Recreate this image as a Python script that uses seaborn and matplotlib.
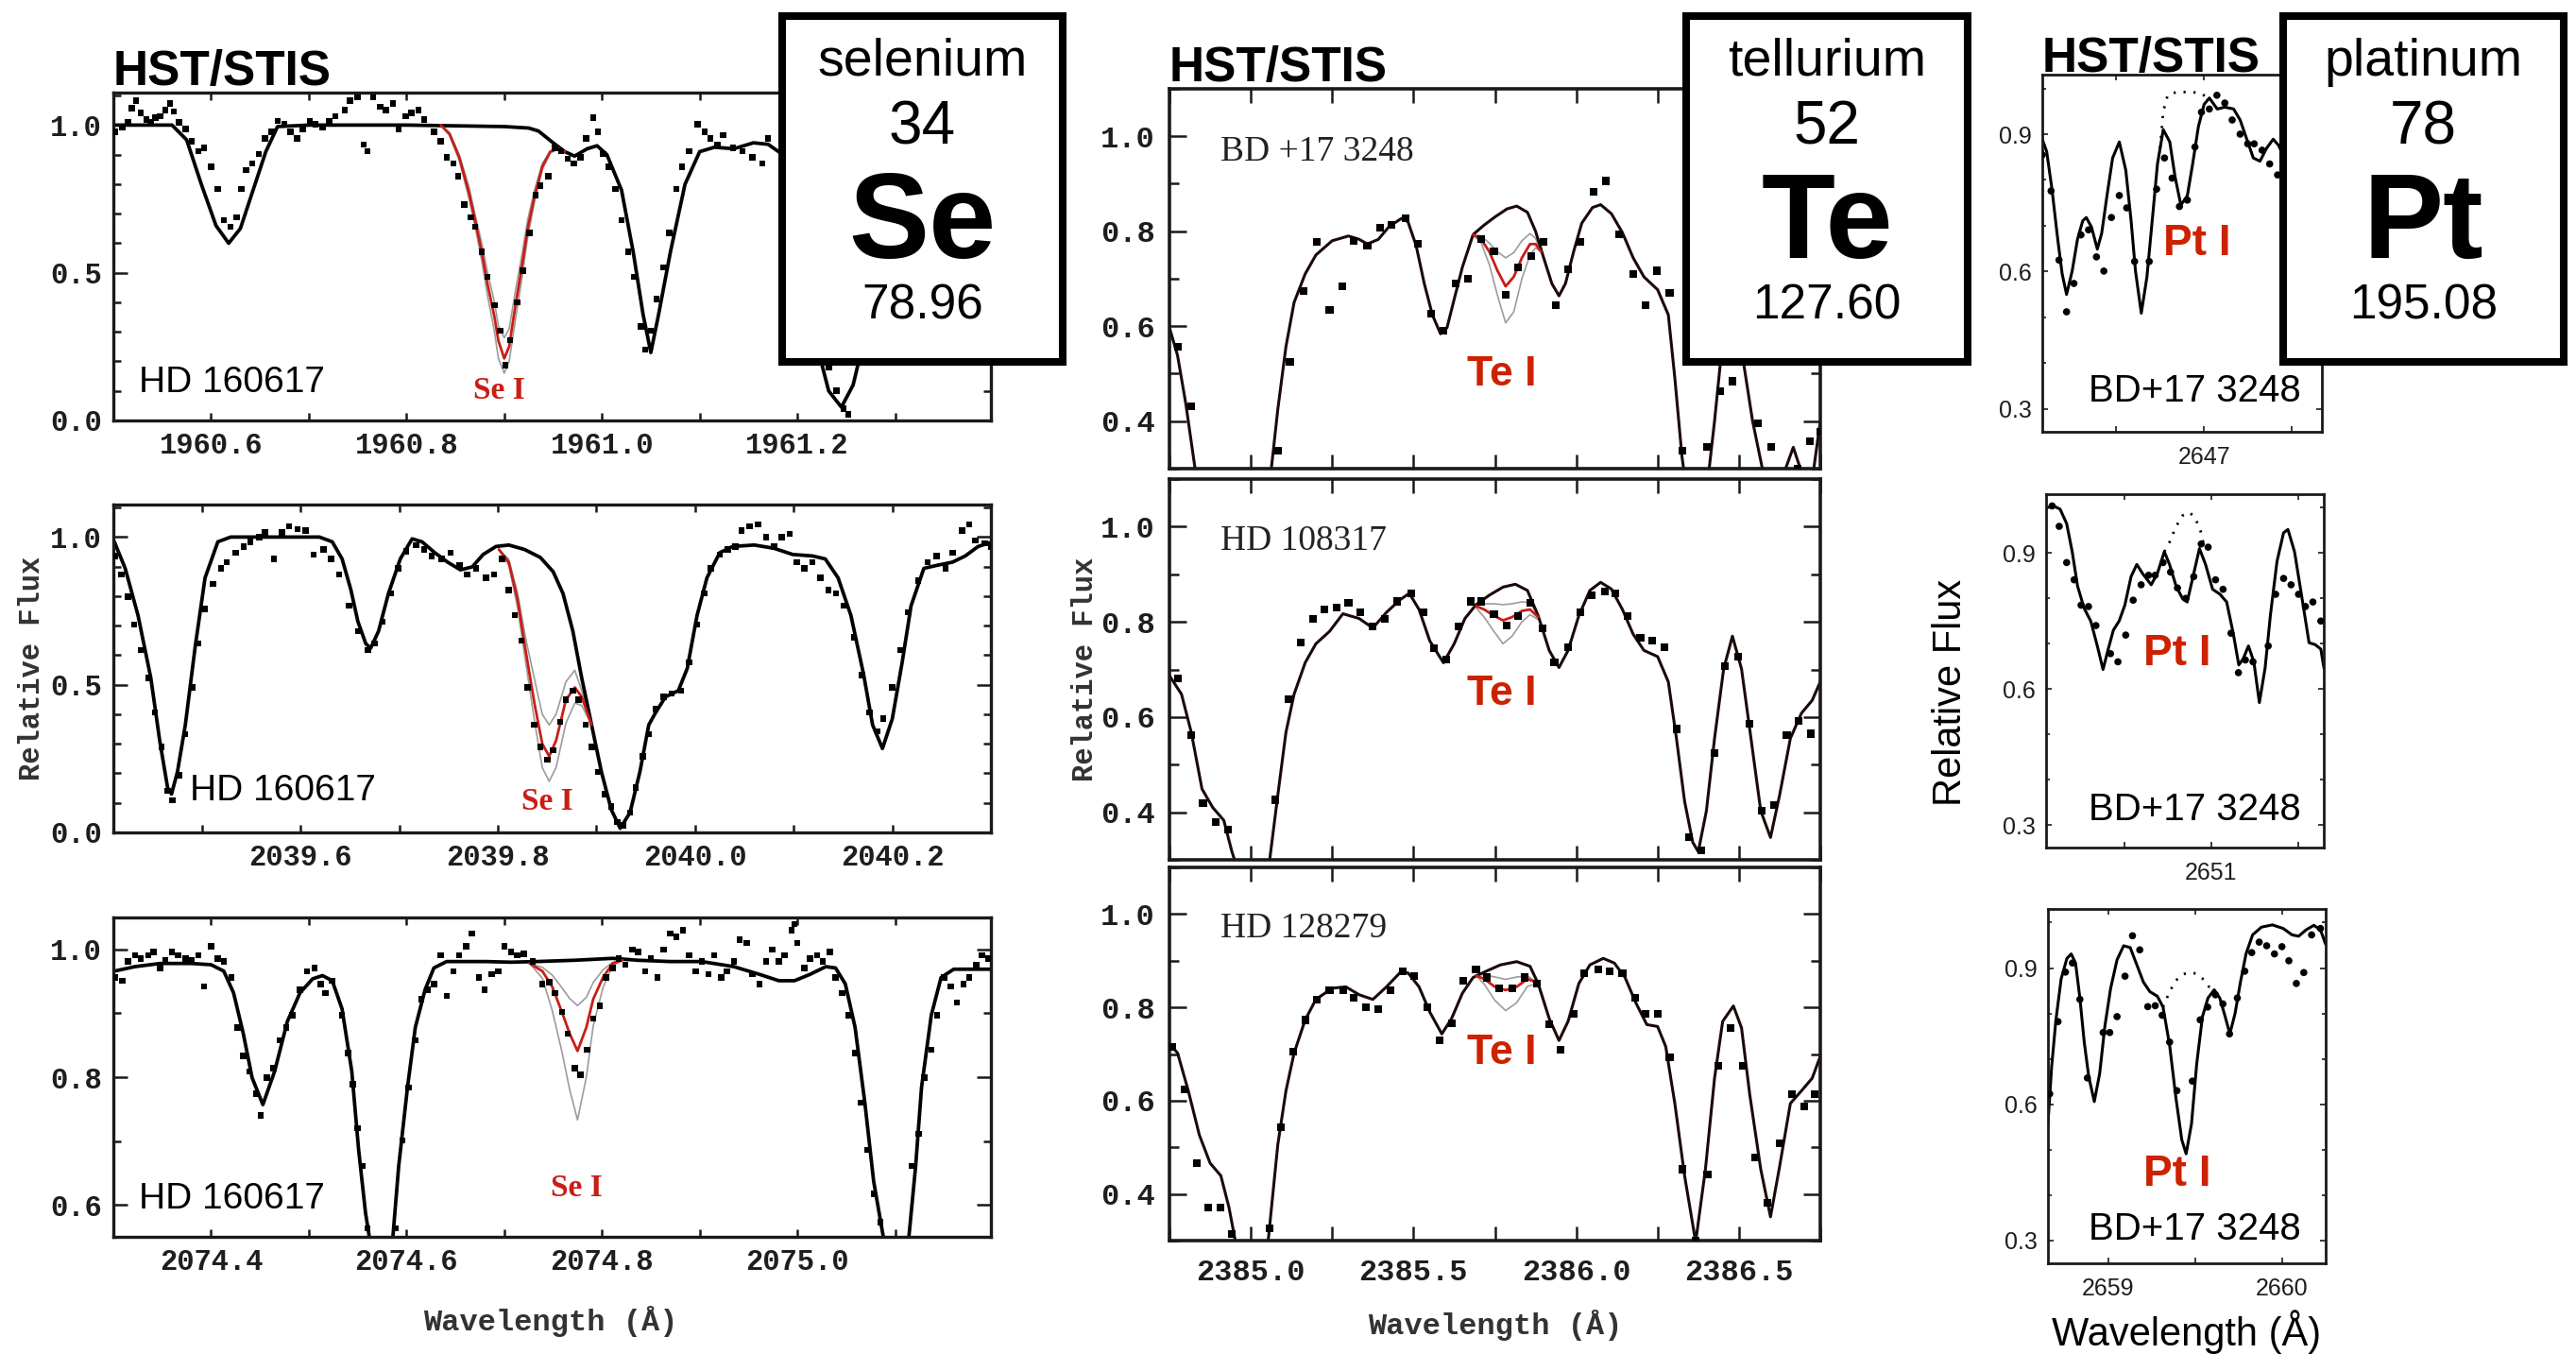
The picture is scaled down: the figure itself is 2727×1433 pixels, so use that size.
import numpy as np
import matplotlib
matplotlib.use("Agg")
import matplotlib.pyplot as plt
import seaborn as sns
from matplotlib.ticker import MultipleLocator

# ======================= DATA =======================
# ---- Se I 1960.9 A, HD 160617 ----
se1_model = np.array([
    [1960.500, 1.000], [1960.560, 1.000], [1960.575, 0.950], [1960.590, 0.800], [1960.605, 0.660],
    [1960.618, 0.600], [1960.630, 0.650], [1960.643, 0.780], [1960.656, 0.910], [1960.668, 0.995],
    [1960.700, 1.000], [1960.800, 1.000], [1960.900, 0.995], [1960.925, 0.990], [1960.935, 0.980],
    [1960.950, 0.940], [1960.962, 0.910], [1960.972, 0.895], [1960.985, 0.920], [1960.995, 0.930],
    [1961.005, 0.900], [1961.020, 0.780], [1961.032, 0.570], [1961.042, 0.360], [1961.050, 0.230],
    [1961.058, 0.360], [1961.070, 0.570], [1961.085, 0.800], [1961.100, 0.910], [1961.115, 0.925],
    [1961.135, 0.920], [1961.155, 0.940], [1961.170, 0.935], [1961.185, 0.900], [1961.200, 0.750],
    [1961.215, 0.450], [1961.225, 0.190], [1961.232, 0.100], [1961.245, 0.045], [1961.257, 0.120],
    [1961.262, 0.190], [1961.280, 0.500], [1961.300, 0.850], [1961.330, 0.950], [1961.400, 0.970]])
se1_fit_wl = [1960.835, 1960.844, 1960.854, 1960.864, 1960.870, 1960.877, 1960.883, 1960.890, 1960.894, 1960.900,
              1960.905, 1960.911, 1960.918, 1960.924, 1960.931, 1960.939, 1960.947, 1960.955, 1960.962]
se1_fit_best = [1.0, 0.97, 0.89, 0.77, 0.68, 0.57, 0.46, 0.35, 0.27, 0.21, 0.25, 0.38, 0.52, 0.65, 0.76, 0.86, 0.91, 0.92, 0.91]
se1_fit_hi = [1.0, 0.975, 0.90, 0.79, 0.70, 0.60, 0.50, 0.40, 0.32, 0.28, 0.31, 0.43, 0.56, 0.68, 0.78, 0.87, 0.91, 0.92, 0.91]
se1_fit_lo = [1.0, 0.965, 0.88, 0.75, 0.66, 0.54, 0.42, 0.30, 0.21, 0.16, 0.20, 0.33, 0.48, 0.62, 0.74, 0.85, 0.905, 0.92, 0.91]
se1_obs = np.array([
    [1960.502, .977], [1960.509, .993], [1960.515, 1.009], [1960.519, 1.057], [1960.523, 1.083], [1960.528, 1.041],
    [1960.534, 1.019], [1960.538, 1.009], [1960.543, 1.025], [1960.548, 1.030], [1960.553, 1.051], [1960.558, 1.073],
    [1960.562, 1.046], [1960.567, 1.009], [1960.574, .987], [1960.580, .945], [1960.587, .912], [1960.593, .923],
    [1960.600, .859], [1960.607, .784], [1960.613, .678], [1960.620, .656], [1960.626, .688], [1960.631, .784],
    [1960.636, .848], [1960.642, .870], [1960.649, .902], [1960.655, .955], [1960.662, .977], [1960.668, 1.014],
    [1960.675, 1.003], [1960.681, .977], [1960.688, .955], [1960.694, .987], [1960.701, 1.014], [1960.707, 1.003],
    [1960.714, .993], [1960.721, 1.014], [1960.727, 1.030], [1960.737, 1.051], [1960.742, 1.083], [1960.750, 1.094],
    [1960.756, .934], [1960.760, .912], [1960.766, 1.094], [1960.773, 1.062], [1960.779, 1.051], [1960.786, 1.073],
    [1960.792, .987], [1960.799, 1.030], [1960.805, 1.041], [1960.812, 1.051], [1960.818, 1.019], [1960.828, .977],
    [1960.835, .945], [1960.841, .891], [1960.848, .870], [1960.853, .827], [1960.859, .731], [1960.866, .688],
    [1960.870, .656], [1960.877, .571], [1960.883, .486], [1960.890, .390], [1960.896, .304], [1960.901, .187],
    [1960.906, .272], [1960.913, .400], [1960.919, .507], [1960.926, .635], [1960.932, .763], [1960.937, .795],
    [1960.945, .827], [1960.952, .923], [1960.958, .912], [1960.965, .886], [1960.971, .870], [1960.978, .891],
    [1960.984, .955], [1960.991, 1.025], [1960.996, .977], [1961.001, .902], [1961.007, .859], [1961.014, .784],
    [1961.020, .678], [1961.027, .571], [1961.033, .486], [1961.040, .318], [1961.044, .240], [1961.050, .304],
    [1961.056, .411], [1961.063, .518], [1961.069, .635], [1961.076, .784], [1961.082, .859], [1961.089, .912],
    [1961.098, 1.003], [1961.105, .977], [1961.111, .955], [1961.118, .934], [1961.124, .966], [1961.134, .923],
    [1961.144, .912], [1961.154, .891], [1961.164, .870], [1961.170, .955], [1961.190, .850], [1961.210, .500],
    [1961.232, .180], [1961.240, .100], [1961.247, .040], [1961.252, .020], [1961.270, .400], [1961.290, .750],
    [1961.310, .900], [1961.330, .950], [1961.360, .970], [1961.390, .960]])

# ---- Se I 2039.8 A, HD 160617 ----
se2_model = np.array([
    [2039.411, .984], [2039.422, .894], [2039.435, .735], [2039.448, .523], [2039.457, .311], [2039.465, .152],
    [2039.469, .130], [2039.475, .205], [2039.483, .364], [2039.493, .629], [2039.503, .862], [2039.516, .984],
    [2039.529, 1.000], [2039.619, 1.000], [2039.632, .984], [2039.642, .926], [2039.651, .820], [2039.658, .714],
    [2039.666, .639], [2039.671, .624], [2039.679, .682], [2039.689, .809], [2039.701, .926], [2039.713, .994],
    [2039.723, .984], [2039.736, .947], [2039.749, .915], [2039.762, .889], [2039.774, .899], [2039.785, .941],
    [2039.798, .968], [2039.811, .973], [2039.827, .958], [2039.843, .931], [2039.856, .883], [2039.866, .809],
    [2039.876, .682], [2039.885, .523], [2039.895, .364], [2039.905, .205], [2039.915, .077], [2039.924, .014],
    [2039.934, .067], [2039.944, .205], [2039.953, .364], [2039.960, .406], [2039.970, .459], [2039.983, .480],
    [2039.992, .555], [2040.002, .735], [2040.012, .862], [2040.025, .947], [2040.038, .968], [2040.060, .973],
    [2040.080, .962], [2040.099, .941], [2040.119, .936], [2040.132, .926], [2040.145, .862], [2040.158, .735],
    [2040.171, .533], [2040.180, .364], [2040.190, .284], [2040.200, .385], [2040.210, .576], [2040.219, .767],
    [2040.232, .894], [2040.245, .904], [2040.261, .915], [2040.274, .936], [2040.287, .968], [2040.302, .984]])
se2_fit_wl = [2039.801, 2039.811, 2039.820, 2039.828, 2039.837, 2039.845, 2039.852, 2039.859, 2039.869, 2039.878, 2039.885, 2039.895]
se2_fit_best = [.958, .915, .788, .618, .438, .300, .258, .311, .449, .491, .459, .364]
se2_fit_hi = [.958, .925, .810, .660, .520, .400, .364, .400, .510, .549, .480, .364]
se2_fit_lo = [.958, .905, .760, .580, .380, .220, .173, .220, .370, .438, .430, .364]
se2_obs = np.array([
    [2039.412, .936], [2039.418, .873], [2039.425, .798], [2039.431, .703], [2039.438, .618], [2039.446, .523],
    [2039.452, .406], [2039.459, .290], [2039.465, .141], [2039.470, .109], [2039.477, .194], [2039.483, .332],
    [2039.490, .491], [2039.496, .639], [2039.503, .756], [2039.511, .841], [2039.519, .894], [2039.525, .915],
    [2039.534, .947], [2039.542, .968], [2039.549, .984], [2039.558, 1.000], [2039.564, 1.016], [2039.573, .926],
    [2039.581, 1.016], [2039.588, 1.037], [2039.597, 1.027], [2039.605, 1.022], [2039.613, .941], [2039.623, .958],
    [2039.631, .926], [2039.639, .873], [2039.649, .767], [2039.658, .682], [2039.668, .618], [2039.675, .639],
    [2039.683, .714], [2039.691, .809], [2039.699, .894], [2039.707, .952], [2039.717, .973], [2039.725, .958],
    [2039.733, .936], [2039.743, .926], [2039.752, .947], [2039.761, .905], [2039.769, .873], [2039.778, .894],
    [2039.788, .862], [2039.796, .873], [2039.804, .926], [2039.811, .820], [2039.817, .735], [2039.824, .650],
    [2039.830, .491], [2039.837, .364], [2039.843, .290], [2039.850, .247], [2039.856, .279], [2039.863, .374],
    [2039.869, .449], [2039.876, .480], [2039.882, .449], [2039.889, .364], [2039.895, .290], [2039.902, .205],
    [2039.908, .130], [2039.915, .088], [2039.921, .035], [2039.927, .024], [2039.934, .067], [2039.940, .152],
    [2039.947, .258], [2039.953, .332], [2039.960, .417], [2039.968, .459], [2039.976, .470], [2039.986, .480],
    [2039.994, .576], [2040.002, .703], [2040.009, .809], [2040.016, .894], [2040.025, .941], [2040.033, .958],
    [2040.041, .968], [2040.047, 1.022], [2040.055, 1.037], [2040.064, 1.043], [2040.072, 1.000], [2040.080, .968],
    [2040.088, 1.000], [2040.096, 1.011], [2040.103, .915], [2040.111, .894], [2040.119, .915], [2040.127, .862],
    [2040.135, .820], [2040.143, .809], [2040.151, .767], [2040.161, .661], [2040.169, .533], [2040.177, .406],
    [2040.185, .342], [2040.191, .385], [2040.200, .491], [2040.208, .618], [2040.216, .746], [2040.226, .852],
    [2040.236, .915], [2040.245, .936], [2040.254, .894], [2040.261, .947], [2040.271, 1.022], [2040.278, 1.043],
    [2040.284, .989], [2040.294, .979], [2040.300, .968]])

# ---- Se I 2074.8 A, HD 160617 ----
se3_model = np.array([
    [2074.301, .966], [2074.322, .973], [2074.348, .978], [2074.380, .978], [2074.400, .976], [2074.413, .966],
    [2074.423, .932], [2074.433, .868], [2074.442, .799], [2074.453, .757], [2074.465, .809], [2074.478, .887],
    [2074.491, .932], [2074.504, .954], [2074.514, .959], [2074.524, .951], [2074.534, .907], [2074.544, .809],
    [2074.551, .686], [2074.558, .588], [2074.562, .549], [2074.566, .480], [2074.573, .380], [2074.580, .480],
    [2074.586, .549], [2074.592, .661], [2074.601, .784], [2074.609, .878], [2074.619, .937], [2074.628, .971],
    [2074.641, .981], [2074.681, .981], [2074.707, .980], [2074.733, .981], [2074.772, .983], [2074.811, .986],
    [2074.837, .983], [2074.870, .981], [2074.902, .981], [2074.935, .973], [2074.961, .961], [2074.981, .951],
    [2074.997, .951], [2075.013, .961], [2075.029, .973], [2075.039, .971], [2075.049, .946], [2075.059, .878],
    [2075.069, .760], [2075.078, .637], [2075.088, .549], [2075.095, .450], [2075.101, .380], [2075.108, .450],
    [2075.114, .549], [2075.121, .661], [2075.127, .784], [2075.137, .897], [2075.147, .956], [2075.160, .969],
    [2075.198, .969]])
se3_fit_wl = [2074.726, 2074.739, 2074.749, 2074.759, 2074.767, 2074.775, 2074.784, 2074.791, 2074.801, 2074.811, 2074.821]
se3_fit_best = [.978, .966, .942, .902, .868, .841, .878, .922, .956, .978, .983]
se3_fit_hi = [.978, .972, .960, .940, .923, .912, .925, .948, .968, .980, .983]
se3_fit_lo = [.978, .955, .905, .840, .780, .733, .800, .880, .940, .975, .983]
se3_obs = np.array([
    [2074.302, .956], [2074.309, .951], [2074.315, .981], [2074.322, .991], [2074.328, .986], [2074.336, .991],
    [2074.341, .996], [2074.348, .971], [2074.353, .983], [2074.360, .996], [2074.366, .991], [2074.374, .986],
    [2074.380, .983], [2074.387, .991], [2074.393, .942], [2074.400, 1.005], [2074.407, .986], [2074.413, .981],
    [2074.421, .956], [2074.427, .878], [2074.433, .833], [2074.439, .809], [2074.446, .774], [2074.451, .740],
    [2074.457, .799], [2074.464, .814], [2074.470, .858], [2074.477, .878], [2074.483, .897], [2074.491, .937],
    [2074.498, .966], [2074.506, .971], [2074.512, .946], [2074.517, .932], [2074.524, .951], [2074.534, .897],
    [2074.540, .838], [2074.545, .789], [2074.550, .720], [2074.555, .661], [2074.560, .563], [2074.568, .450],
    [2074.575, .400], [2074.582, .450], [2074.589, .563], [2074.596, .701], [2074.602, .784], [2074.609, .858],
    [2074.615, .922], [2074.622, .937], [2074.628, .946], [2074.635, .991], [2074.641, .927], [2074.648, .966],
    [2074.654, .991], [2074.661, 1.005], [2074.667, 1.025], [2074.674, .956], [2074.680, .937], [2074.687, .961],
    [2074.694, .966], [2074.700, 1.005], [2074.707, .996], [2074.713, .991], [2074.720, .993], [2074.729, .981],
    [2074.739, .946], [2074.746, .949], [2074.752, .932], [2074.759, .902], [2074.765, .868], [2074.772, .814],
    [2074.778, .804], [2074.785, .843], [2074.791, .892], [2074.798, .912], [2074.804, .956], [2074.811, .971],
    [2074.817, .986], [2074.824, .976], [2074.831, 1.000], [2074.837, .996], [2074.844, .966], [2074.850, .986],
    [2074.857, .956], [2074.863, 1.000], [2074.870, 1.025], [2074.876, 1.020], [2074.883, 1.030], [2074.889, .991],
    [2074.896, .966], [2074.902, .981], [2074.909, .961], [2074.915, .991], [2074.922, .956], [2074.928, .966],
    [2074.935, .981], [2074.941, 1.015], [2074.948, 1.010], [2074.954, .961], [2074.961, .946], [2074.968, .981],
    [2074.974, 1.000], [2074.981, .981], [2074.987, .991], [2074.994, 1.030], [2074.997, 1.040], [2075.000, 1.010],
    [2075.007, .971], [2075.013, .986], [2075.020, .991], [2075.026, .981], [2075.033, .996], [2075.039, .956],
    [2075.046, .932], [2075.052, .897], [2075.059, .838], [2075.065, .760], [2075.072, .686], [2075.078, .617],
    [2075.085, .573], [2075.095, .450], [2075.105, .420], [2075.117, .661], [2075.124, .711], [2075.130, .799],
    [2075.137, .843], [2075.143, .897], [2075.150, .956], [2075.157, .942], [2075.163, .917], [2075.170, .946],
    [2075.176, .956], [2075.183, .976], [2075.189, .991], [2075.195, .986]])

# ---- Te I 2385.8 A ----
te1_model = np.array([
    [2384.750, .597], [2384.775, .538], [2384.800, .438], [2384.825, .318], [2384.850, .200], [2384.950, .150],
    [2385.017, .200], [2385.063, .300], [2385.083, .425], [2385.108, .557], [2385.133, .650], [2385.167, .710],
    [2385.200, .750], [2385.250, .780], [2385.300, .790], [2385.333, .783], [2385.358, .773], [2385.392, .783],
    [2385.425, .810], [2385.463, .827], [2385.483, .820], [2385.508, .770], [2385.533, .690], [2385.558, .624],
    [2385.583, .584], [2385.603, .597], [2385.625, .657], [2385.650, .724], [2385.683, .793], [2385.717, .813],
    [2385.750, .830], [2385.787, .847], [2385.817, .853], [2385.850, .840], [2385.875, .800], [2385.900, .744],
    [2385.925, .690], [2385.947, .664], [2385.967, .690], [2385.992, .757], [2386.017, .817], [2386.050, .850],
    [2386.075, .856], [2386.108, .837], [2386.142, .797], [2386.175, .744], [2386.208, .704], [2386.250, .677],
    [2386.283, .624], [2386.303, .491], [2386.325, .325], [2386.350, .200], [2386.392, .200], [2386.425, .400],
    [2386.447, .550], [2386.475, .650], [2386.508, .550], [2386.542, .400], [2386.575, .290], [2386.617, .250],
    [2386.667, .345], [2386.708, .260], [2386.730, .300], [2386.750, .400]])
te1_fit_wl = [2385.683, 2385.708, 2385.733, 2385.758, 2385.783, 2385.808, 2385.833, 2385.858, 2385.875, 2385.892]
te1_fit_best = [.793, .783, .757, .717, .684, .704, .744, .773, .773, .757]
te1_fit_hi = [.793, .790, .775, .757, .744, .755, .780, .795, .785, .757]
te1_fit_lo = [.793, .775, .730, .665, .607, .630, .700, .750, .765, .757]
te1_obs = np.array([
    [2384.775, .557], [2384.817, .431], [2385.083, .338], [2385.120, .524], [2385.163, .674], [2385.203, .777],
    [2385.242, .634], [2385.280, .684], [2385.317, .780], [2385.358, .770], [2385.397, .807], [2385.433, .813],
    [2385.475, .827], [2385.513, .773], [2385.553, .627], [2385.592, .591], [2385.630, .690], [2385.667, .700],
    [2385.708, .783], [2385.747, .757], [2385.783, .667], [2385.820, .724], [2385.863, .747], [2385.900, .777],
    [2385.937, .644], [2385.975, .720], [2386.013, .777], [2386.053, .883], [2386.092, .906], [2386.133, .793],
    [2386.175, .710], [2386.213, .644], [2386.247, .717], [2386.287, .670], [2386.325, .338], [2386.365, .200],
    [2386.403, .345], [2386.442, .464], [2386.480, .484], [2386.520, .600], [2386.558, .395], [2386.600, .345],
    [2386.640, .250], [2386.680, .300], [2386.717, .358], [2386.750, .378]])

te2_model = np.array([
    [2384.750, .687], [2384.787, .648], [2384.817, .568], [2384.850, .449], [2384.883, .410], [2384.917, .383],
    [2384.942, .317], [2384.950, .300], [2385.000, .150], [2385.058, .300], [2385.083, .436], [2385.108, .568],
    [2385.133, .648], [2385.167, .714], [2385.200, .754], [2385.242, .780], [2385.283, .817], [2385.333, .807],
    [2385.375, .787], [2385.417, .820], [2385.458, .846], [2385.487, .860], [2385.517, .826], [2385.550, .760],
    [2385.592, .714], [2385.625, .754], [2385.658, .807], [2385.692, .836], [2385.733, .856], [2385.775, .873],
    [2385.813, .879], [2385.850, .866], [2385.883, .813], [2385.917, .740], [2385.947, .704], [2385.975, .740],
    [2386.008, .813], [2386.042, .866], [2386.075, .883], [2386.108, .869], [2386.142, .826], [2386.175, .774],
    [2386.208, .740], [2386.250, .727], [2386.283, .674], [2386.308, .555], [2386.333, .423], [2386.358, .337],
    [2386.375, .317], [2386.400, .403], [2386.425, .555], [2386.453, .701], [2386.480, .770], [2386.508, .701],
    [2386.537, .555], [2386.567, .403], [2386.597, .347], [2386.625, .436], [2386.658, .555], [2386.692, .608],
    [2386.725, .635], [2386.750, .674]])
te2_fit_wl = [2385.692, 2385.717, 2385.747, 2385.775, 2385.803, 2385.833, 2385.858, 2385.883]
te2_fit_best = [.833, .826, .813, .803, .810, .823, .826, .810]
te2_fit_hi = [.836, .838, .838, .836, .838, .842, .840, .813]
te2_fit_lo = [.830, .810, .780, .754, .770, .800, .815, .805]
te2_obs = np.array([
    [2384.775, .681], [2384.817, .562], [2384.853, .419], [2384.892, .380], [2384.930, .363], [2385.075, .426],
    [2385.117, .638], [2385.153, .757], [2385.192, .807], [2385.225, .826], [2385.263, .830], [2385.300, .840],
    [2385.337, .820], [2385.375, .790], [2385.413, .807], [2385.450, .843], [2385.492, .860], [2385.530, .820],
    [2385.563, .744], [2385.600, .721], [2385.637, .790], [2385.675, .843], [2385.708, .843], [2385.747, .817],
    [2385.787, .793], [2385.820, .813], [2385.858, .840], [2385.897, .787], [2385.933, .714], [2385.975, .747],
    [2386.013, .820], [2386.047, .856], [2386.087, .863], [2386.120, .860], [2386.158, .813], [2386.197, .767],
    [2386.233, .760], [2386.270, .747], [2386.308, .575], [2386.347, .347], [2386.383, .320], [2386.425, .525],
    [2386.458, .707], [2386.497, .727], [2386.533, .585], [2386.570, .403], [2386.608, .416], [2386.647, .562],
    [2386.683, .592], [2386.720, .565]])

te3_model = np.array([
    [2384.750, .722], [2384.775, .702], [2384.808, .621], [2384.842, .526], [2384.875, .466], [2384.908, .439],
    [2384.933, .371], [2384.953, .297], [2385.003, .150], [2385.053, .297], [2385.083, .506], [2385.108, .621],
    [2385.133, .702], [2385.167, .773], [2385.200, .817], [2385.250, .841], [2385.292, .844], [2385.333, .827],
    [2385.375, .817], [2385.417, .844], [2385.458, .874], [2385.483, .874], [2385.517, .844], [2385.550, .790],
    [2385.587, .743], [2385.617, .776], [2385.650, .830], [2385.683, .864], [2385.725, .878], [2385.767, .891],
    [2385.817, .898], [2385.858, .888], [2385.883, .851], [2385.917, .776], [2385.947, .729], [2385.975, .770],
    [2386.008, .851], [2386.042, .891], [2386.083, .905], [2386.117, .895], [2386.150, .864], [2386.183, .810],
    [2386.217, .763], [2386.250, .759], [2386.275, .716], [2386.303, .594], [2386.333, .439], [2386.367, .297],
    [2386.397, .453], [2386.425, .648], [2386.450, .770], [2386.483, .803], [2386.508, .756], [2386.533, .614],
    [2386.567, .453], [2386.597, .351], [2386.625, .459], [2386.658, .594], [2386.692, .621], [2386.725, .648],
    [2386.750, .695]])
te3_fit_wl = [2385.692, 2385.717, 2385.750, 2385.783, 2385.817, 2385.850, 2385.875]
te3_fit_best = [.868, .861, .844, .837, .844, .861, .854]
te3_fit_hi = [.870, .870, .865, .860, .865, .868, .855]
te3_fit_lo = [.868, .850, .815, .793, .810, .845, .850]
te3_obs = np.array([
    [2384.758, .716], [2384.797, .624], [2384.833, .466], [2384.870, .371], [2384.908, .371], [2384.942, .314],
    [2385.058, .327], [2385.092, .543], [2385.130, .705], [2385.167, .773], [2385.203, .817], [2385.242, .837],
    [2385.283, .837], [2385.317, .820], [2385.353, .800], [2385.392, .797], [2385.430, .837], [2385.467, .878],
    [2385.503, .868], [2385.542, .800], [2385.580, .729], [2385.617, .766], [2385.653, .857], [2385.692, .881],
    [2385.725, .864], [2385.763, .841], [2385.803, .841], [2385.842, .864], [2385.880, .851], [2385.917, .763],
    [2385.953, .709], [2385.992, .786], [2386.025, .874], [2386.067, .881], [2386.103, .878], [2386.142, .874],
    [2386.180, .820], [2386.213, .786], [2386.250, .786], [2386.287, .692], [2386.325, .453], [2386.367, .300],
    [2386.403, .442], [2386.437, .675], [2386.475, .756], [2386.513, .675], [2386.550, .479], [2386.587, .381],
    [2386.625, .509], [2386.663, .614], [2386.700, .587], [2386.733, .614]])

# ---- Pt I, BD+17 3248 ----
pt1_model = np.array([
    [2646.080, .889], [2646.105, .862], [2646.135, .780], [2646.168, .670], [2646.193, .595], [2646.218, .550],
    [2646.250, .601], [2646.280, .670], [2646.310, .711], [2646.330, .718], [2646.360, .697], [2646.393, .649],
    [2646.418, .684], [2646.448, .766], [2646.480, .848], [2646.518, .883], [2646.555, .821], [2646.585, .711],
    [2646.610, .601], [2646.643, .509], [2646.675, .588], [2646.705, .711], [2646.735, .835], [2646.768, .910],
    [2646.805, .883], [2646.835, .807], [2646.868, .745], [2646.905, .766], [2646.935, .835], [2646.968, .917],
    [2647.000, .965], [2647.030, .979], [2647.075, .955], [2647.118, .959], [2647.168, .955], [2647.205, .931],
    [2647.243, .889], [2647.280, .848], [2647.318, .841], [2647.355, .869], [2647.393, .889], [2647.423, .876],
    [2647.480, .830], [2647.555, .850], [2647.672, .800]])
pt1_nopt = np.array([[2646.750, .870], [2646.768, .950], [2646.793, .985], [2646.843, .992], [2646.930, .992],
                     [2646.985, .989], [2647.018, .979]])
pt1_obs = np.array([
    [2646.080, .855], [2646.130, .776], [2646.175, .625], [2646.218, .512], [2646.260, .574], [2646.300, .680],
    [2646.343, .691], [2646.388, .632], [2646.430, .601], [2646.473, .718], [2646.518, .766], [2646.560, .739],
    [2646.605, .622], [2646.688, .622], [2646.730, .780], [2646.775, .848], [2646.818, .804], [2646.860, .742],
    [2646.905, .756], [2646.948, .872], [2646.985, .948], [2647.030, .955], [2647.073, .985], [2647.118, .968],
    [2647.160, .931], [2647.205, .900], [2647.248, .879], [2647.285, .879], [2647.330, .865], [2647.373, .835],
    [2647.418, .811]])

pt2_model = np.array([
    [2650.051, 1.000], [2650.089, 1.004], [2650.127, .997], [2650.165, .965], [2650.197, .903], [2650.228, .827],
    [2650.266, .778], [2650.304, .750], [2650.342, .695], [2650.375, .643], [2650.405, .688], [2650.435, .730],
    [2650.468, .750], [2650.501, .785], [2650.537, .848], [2650.570, .875], [2650.603, .855], [2650.653, .830],
    [2650.689, .855], [2650.729, .903], [2650.759, .875], [2650.797, .827], [2650.835, .799], [2650.861, .792],
    [2650.899, .855], [2650.932, .910], [2650.967, .875], [2651.008, .820], [2651.051, .809], [2651.089, .792],
    [2651.127, .723], [2651.159, .653], [2651.185, .667], [2651.215, .695], [2651.246, .660], [2651.278, .570],
    [2651.311, .646], [2651.342, .764], [2651.380, .882], [2651.418, .945], [2651.443, .952], [2651.481, .903],
    [2651.519, .813], [2651.565, .702], [2651.600, .698], [2651.633, .688], [2651.651, .646]])
pt2_nopt = np.array([[2650.729, .903], [2650.759, .924], [2650.797, .959], [2650.835, .983], [2650.873, .990],
                     [2650.906, .979], [2650.942, .945], [2650.957, .917]])
pt2_obs = np.array([
    [2650.081, 1.004], [2650.122, .959], [2650.165, .879], [2650.208, .841], [2650.248, .785], [2650.291, .782],
    [2650.334, .740], [2650.418, .678], [2650.461, .660], [2650.506, .719], [2650.549, .796], [2650.595, .830],
    [2650.638, .851], [2650.676, .851], [2650.722, .879], [2650.765, .858], [2650.805, .823], [2650.853, .800],
    [2650.899, .848], [2650.942, .920], [2650.982, .913], [2651.025, .841], [2651.068, .820], [2651.114, .723],
    [2651.157, .636], [2651.197, .664], [2651.241, .660], [2651.329, .695], [2651.372, .809], [2651.418, .844],
    [2651.461, .830], [2651.504, .809], [2651.544, .782], [2651.587, .792], [2651.633, .750]])

pt3_model = np.array([
    [2658.652, .557], [2658.673, .682], [2658.698, .786], [2658.728, .876], [2658.761, .921], [2658.786, .931],
    [2658.811, .911], [2658.836, .834], [2658.861, .737], [2658.887, .661], [2658.919, .606], [2658.950, .668],
    [2658.980, .772], [2659.013, .855], [2659.050, .918], [2659.088, .949], [2659.126, .945], [2659.164, .907],
    [2659.202, .869], [2659.239, .848], [2659.282, .838], [2659.315, .814], [2659.353, .730], [2659.390, .612],
    [2659.423, .522], [2659.448, .491], [2659.479, .557], [2659.509, .689], [2659.542, .793], [2659.574, .834],
    [2659.610, .852], [2659.642, .834], [2659.673, .793], [2659.700, .755], [2659.730, .800], [2659.761, .869],
    [2659.793, .931], [2659.831, .973], [2659.882, .990], [2659.945, .995], [2660.008, .987], [2660.058, .973],
    [2660.096, .970], [2660.139, .984], [2660.184, .994], [2660.222, .984], [2660.252, .952]])
pt3_nopt = np.array([[2659.315, .814], [2659.353, .848], [2659.390, .873], [2659.428, .886], [2659.466, .890],
                     [2659.504, .888], [2659.542, .877], [2659.579, .859], [2659.610, .852]])
pt3_obs = np.array([
    [2658.662, .623], [2658.710, .782], [2658.753, .891], [2658.793, .911], [2658.836, .831], [2658.879, .658],
    [2658.970, .758], [2659.008, .758], [2659.050, .793], [2659.096, .882], [2659.139, .971], [2659.181, .940],
    [2659.227, .815], [2659.270, .817], [2659.310, .796], [2659.353, .737], [2659.395, .630], [2659.484, .651],
    [2659.529, .786], [2659.572, .814], [2659.617, .841], [2659.660, .821], [2659.698, .755], [2659.743, .834],
    [2659.786, .893], [2659.826, .934], [2659.869, .957], [2659.912, .949], [2659.957, .931], [2660.000, .947],
    [2660.040, .916], [2660.083, .866], [2660.126, .890], [2660.171, .973], [2660.222, .987]])

# ---- axis ranges and ticks ----
se1_xlim, se2_xlim, se3_xlim = (1960.50, 1961.398), (2039.41, 2040.30), (2074.30, 2075.198)
se1_xticks = [1960.6, 1960.8, 1961.0, 1961.2]
se2_xticks = [2039.6, 2039.8, 2040.0, 2040.2]
se3_xticks = [2074.4, 2074.6, 2074.8, 2075.0]
se_ylim_full, se3_ylim = (0.0, 1.11), (0.55, 1.05)
se_yticks_full, se3_yticks = [0.0, 0.5, 1.0], [0.6, 0.8, 1.0]
te_xlim, te_ylim = (2384.75, 2386.75), (0.30, 1.10)
te_xticks, te_yticks = [2385.0, 2385.5, 2386.0, 2386.5], [0.4, 0.6, 0.8, 1.0]
pt1_xlim, pt2_xlim, pt3_xlim = (2646.08, 2647.67), (2650.046, 2651.65), (2658.652, 2660.252)
pt1_xticks, pt2_xticks, pt3_xticks = [2647], [2651], [2659, 2660]
pt_ylim, pt_yticks = (0.25, 1.03), [0.3, 0.6, 0.9]

elements = [("selenium", "34", "Se", "78.96"),
            ("tellurium", "52", "Te", "127.60"),
            ("platinum", "78", "Pt", "195.08")]

# ======================= FIGURE =======================
sns.set_style("ticks")
plt.rcParams['font.family'] = ['Liberation Sans', 'DejaVu Sans']
plt.rcParams['text.color'] = 'black'
plt.rcParams['axes.labelcolor'] = 'black'
plt.rcParams['xtick.color'] = 'black'
plt.rcParams['ytick.color'] = 'black'

W, H = 2727, 1433
fig = plt.figure(figsize=(W / 100, H / 100), dpi=100)
fig.patch.set_facecolor('white')


def px_rect(x0, y0, x1, y1):
    return [x0 / W, 1 - y1 / H, (x1 - x0) / W, (y1 - y0) / H]


def fx(x):
    return x / W


def fy(y):
    return 1 - y / H


RED = '#c91d16'
STYLES = {
    'se': dict(lw=2.7, lc='black', rlw=2.0, glw=1.2, mk='s', ms=22, spw=2.4, tf='Liberation Mono', tw='bold',
               tfs=22, xmaj=6, xmin=6, ymaj=11, ymin=6, xpad=9, ypad=9, tkw=1.8),
    'te': dict(lw=2.2, lc='#1c0808', rlw=2.0, glw=1.2, mk='s', ms=34, spw=2.6, tf='Liberation Mono', tw='bold',
               tfs=23, xmaj=11, xmin=11, ymaj=13, ymin=7, xpad=14, ypad=11, tkw=1.8),
    'pt': dict(lw=2.2, lc='black', rlw=2.0, glw=1.2, mk='o', ms=30, spw=2.0, tf='Liberation Sans', tw='normal',
               tfs=18, xmaj=4, xmin=4, ymaj=4, ymin=3, xpad=11, ypad=8, tkw=1.2),
}


def spectrum_panel(rect, model, obs, xlim, ylim, xticks, yticks, xminor, yminor, xfmt, yfmt,
                   style, fit=None, nofit=None, xlabels=True):
    st = STYLES[style]
    ax = fig.add_axes(rect)
    if fit is not None:
        wl, best, hi, lo = fit
        for g in (hi, lo):
            sns.lineplot(x=wl, y=g, ax=ax, color='#9c9c9c', linewidth=st['glw'],
                         estimator=None, sort=False, legend=False)
    sns.lineplot(x=model[:, 0], y=model[:, 1], ax=ax, color=st['lc'], linewidth=st['lw'],
                 estimator=None, sort=False, legend=False)
    if fit is not None:
        sns.lineplot(x=wl, y=best, ax=ax, color=RED, linewidth=st['rlw'],
                     estimator=None, sort=False, legend=False)
    if nofit is not None:
        sns.lineplot(x=nofit[:, 0], y=nofit[:, 1], ax=ax, color='black', linewidth=2.0,
                     linestyle=(0, (0.8, 3.0)), estimator=None, sort=False, legend=False)
    sns.scatterplot(x=obs[:, 0], y=obs[:, 1], ax=ax, marker=st['mk'], s=st['ms'], color='black',
                    edgecolor='none', linewidth=0, legend=False, zorder=3)
    ax.set_xlim(xlim)
    ax.set_ylim(ylim)
    tkw = dict(fontfamily=st['tf'], fontweight=st['tw'], fontsize=st['tfs'], color='#1e1e1e')
    if xlabels:
        ax.set_xticks(xticks, labels=[xfmt.format(v) for v in xticks], **tkw)
    else:
        ax.set_xticks(xticks)
        ax.tick_params(axis='x', labelbottom=False)
    ax.set_yticks(yticks, labels=[yfmt.format(v) for v in yticks], **tkw)
    ax.xaxis.set_minor_locator(MultipleLocator(xminor))
    ax.yaxis.set_minor_locator(MultipleLocator(yminor))
    ax.tick_params(axis='both', which='both', direction='in', top=True, right=True,
                   width=st['tkw'], color='#1a1a1a')
    ax.tick_params(axis='x', which='major', length=st['xmaj'], pad=st['xpad'])
    ax.tick_params(axis='x', which='minor', length=st['xmin'])
    ax.tick_params(axis='y', which='major', length=st['ymaj'], pad=st['ypad'])
    ax.tick_params(axis='y', which='minor', length=st['ymin'])
    ax.set_xlabel('')
    ax.set_ylabel('')
    for s in ax.spines.values():
        s.set_linewidth(st['spw'])
        s.set_color('#1a1a1a')
    return ax


# ---- Se column ----
spectrum_panel(px_rect(120, 98, 1049, 445), se1_model, se1_obs, se1_xlim, se_ylim_full, se1_xticks,
               se_yticks_full, 0.1, 0.1, '{:.1f}', '{:.1f}', 'se',
               fit=(se1_fit_wl, se1_fit_best, se1_fit_hi, se1_fit_lo))
spectrum_panel(px_rect(120, 534, 1049, 881), se2_model, se2_obs, se2_xlim, se_ylim_full, se2_xticks,
               se_yticks_full, 0.1, 0.1, '{:.1f}', '{:.1f}', 'se',
               fit=(se2_fit_wl, se2_fit_best, se2_fit_hi, se2_fit_lo))
spectrum_panel(px_rect(120, 971, 1049, 1309), se3_model, se3_obs, se3_xlim, se3_ylim, se3_xticks,
               se3_yticks, 0.1, 0.1, '{:.1f}', '{:.1f}', 'se',
               fit=(se3_fit_wl, se3_fit_best, se3_fit_hi, se3_fit_lo))

# ---- Te column ----
spectrum_panel(px_rect(1238, 94, 1927, 496), te1_model, te1_obs, te_xlim, te_ylim, te_xticks, te_yticks,
               0.25, 0.1, '{:.1f}', '{:.1f}', 'te',
               fit=(te1_fit_wl, te1_fit_best, te1_fit_hi, te1_fit_lo), xlabels=False)
spectrum_panel(px_rect(1238, 507, 1927, 910), te2_model, te2_obs, te_xlim, te_ylim, te_xticks, te_yticks,
               0.25, 0.1, '{:.1f}', '{:.1f}', 'te',
               fit=(te2_fit_wl, te2_fit_best, te2_fit_hi, te2_fit_lo), xlabels=False)
spectrum_panel(px_rect(1238, 918, 1927, 1313), te3_model, te3_obs, te_xlim, te_ylim, te_xticks, te_yticks,
               0.25, 0.1, '{:.1f}', '{:.1f}', 'te',
               fit=(te3_fit_wl, te3_fit_best, te3_fit_hi, te3_fit_lo))

# ---- Pt column ----
spectrum_panel(px_rect(2162, 79, 2458, 457), pt1_model, pt1_obs, pt1_xlim, pt_ylim, pt1_xticks, pt_yticks,
               0.5, 0.1, '{:d}', '{:.1f}', 'pt', nofit=pt1_nopt)
spectrum_panel(px_rect(2166, 523, 2460, 897), pt2_model, pt2_obs, pt2_xlim, pt_ylim, pt2_xticks, pt_yticks,
               0.5, 0.1, '{:d}', '{:.1f}', 'pt', nofit=pt2_nopt)
spectrum_panel(px_rect(2168, 962, 2462, 1337), pt3_model, pt3_obs, pt3_xlim, pt_ylim, pt3_xticks, pt_yticks,
               0.5, 0.1, '{:d}', '{:.1f}', 'pt', nofit=pt3_nopt)

# ---- annotations ----
for (x, yb) in [(120, 90), (1238, 86), (2162, 76)]:
    fig.text(fx(x), fy(yb), "HST/STIS", fontsize=37, fontweight='bold', color='black', ha='left', va='baseline')

for (x, yc) in [(147, 405), (201, 837), (147, 1269)]:
    fig.text(fx(x), fy(yc), "HD 160617", fontsize=28, color='black', ha='left', va='center')
for (x, yc) in [(528, 413), (579, 848), (610, 1257)]:
    fig.text(fx(x), fy(yc), "Se I", fontsize=24, fontfamily='Liberation Serif', fontweight='bold',
             color=RED, ha='center', va='center')

for (lab, yc) in [("BD +17 3248", 161), ("HD 108317", 573), ("HD 128279", 983)]:
    fig.text(fx(1292), fy(yc), lab, fontsize=27, fontfamily='Liberation Serif', color='#222222',
             ha='left', va='center')
for yc in [396, 735, 1115]:
    fig.text(fx(1590), fy(yc), "Te I", fontsize=32, fontweight='bold', color='#cc2200', ha='center', va='center')

for (x, yc) in [(2326, 258), (2305, 692), (2305, 1243)]:
    fig.text(fx(x), fy(yc), "Pt I", fontsize=33, fontweight='bold', color='#cc2200', ha='center', va='center')
for yc in [414, 857, 1301]:
    fig.text(fx(2211), fy(yc), "BD+17 3248", fontsize=29, color='black', ha='left', va='center')

# axis labels
mono = dict(fontfamily='Liberation Mono', fontweight='bold', color='#333333')
fig.text(fx(34), fy(707), "Relative Flux", rotation=90, fontsize=22, ha='center', va='center', **mono)
fig.text(fx(1149), fy(708), "Relative Flux", rotation=90, fontsize=22, ha='center', va='center', **mono)
fig.text(fx(2065), fy(733), "Relative Flux", rotation=90, fontsize=30, color='black', ha='center', va='center')
fig.text(fx(583), fy(1399), "Wavelength (Å)", fontsize=23, ha='center', va='center', **mono)
fig.text(fx(1583), fy(1403), "Wavelength (Å)", fontsize=23, ha='center', va='center', **mono)
fig.text(fx(2315), fy(1410), "Wavelength (Å)", fontsize=30, color='black', ha='center', va='center')

# ---- element boxes (periodic-table style) ----
for (x0, x1), (name, num, sym, mass) in zip([(828, 1125), (1785, 2083), (2417, 2714)], elements):
    bx = fig.add_axes(px_rect(x0, 17, x1, 383))
    bx.set_facecolor('white')
    bx.set_xticks([])
    bx.set_yticks([])
    for s in bx.spines.values():
        s.set_linewidth(5.8)
        s.set_color('black')
    bx.text(0.5, 0.828, name, transform=bx.transAxes, ha='center', va='baseline', fontsize=40, color='black')
    bx.text(0.5, 0.631, num, transform=bx.transAxes, ha='center', va='baseline', fontsize=46, color='black')
    bx.text(0.5, 0.300, sym, transform=bx.transAxes, ha='center', va='baseline', fontsize=92,
            fontweight='bold', color='black')
    bx.text(0.5, 0.123, mass, transform=bx.transAxes, ha='center', va='baseline', fontsize=37, color='black')

fig.savefig("out.png", dpi=100, facecolor='white')
